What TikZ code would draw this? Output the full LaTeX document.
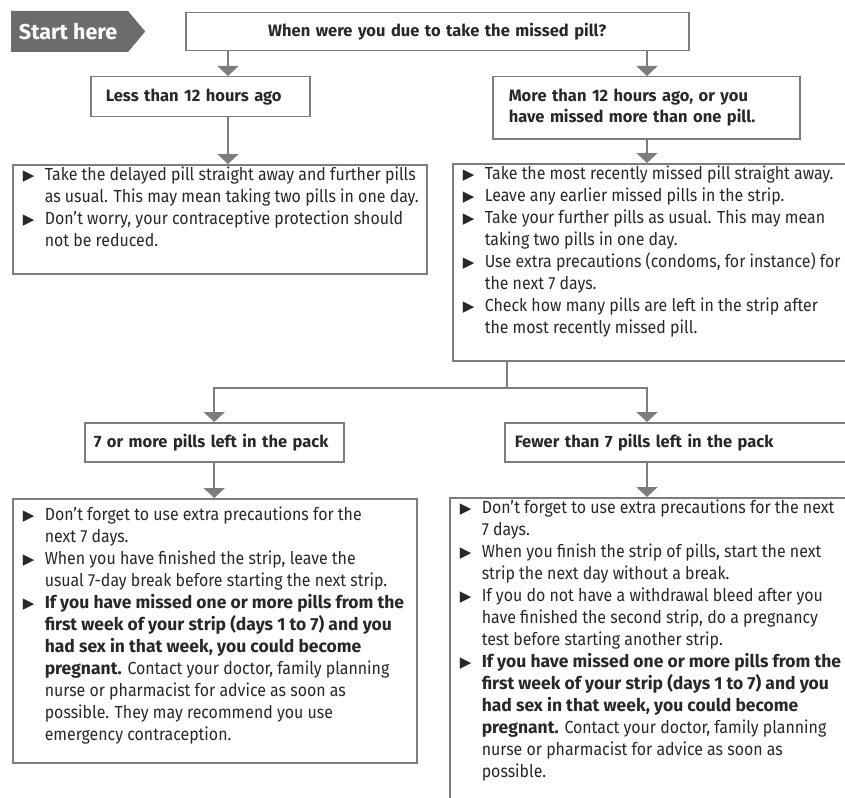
\documentclass[tikz,border=0pt]{standalone}
\usepackage{fontspec}
\setmainfont{Fira Sans}[FakeStretch=0.91]
\newfontfamily\headfont{Fira Sans}
\newfontfamily\symfont{DejaVu Sans}
\usepackage{xcolor}
\definecolor{linegrey}{RGB}{125,125,125}
\definecolor{startgrey}{RGB}{108,108,108}
\definecolor{ink}{RGB}{40,40,40}
\usetikzlibrary{positioning, calc, shapes.symbols, arrows.meta}
\tikzstyle{Arrow} = [draw=linegrey, line width=2pt,
-{Triangle[width=21pt,length=10pt]}]
\tikzstyle{Line} = [draw=linegrey, line width=2pt]
\tikzstyle{Head} = [draw=linegrey, line width=1.5pt, text=ink, anchor=north west,
font=\headfont\bfseries\fontsize{16.5}{21}\selectfont, align=left]
\tikzstyle{Body} = [draw=linegrey, line width=1.5pt, text=ink, anchor=north west,
inner sep=0pt, font=\fontsize{17.5}{22}\selectfont]
\newcommand{\itm}{\par\hangindent=32pt\hangafter=1\noindent\hspace*{10pt}%
\makebox[22pt][l]{{\symfont\fontsize{15}{15}\selectfont ▶}}\strut}
\newcommand{\warnbold}[1]{{\headfont\bfseries #1}}
\newcommand{\boxtext}[3]{\parbox[t][#2][t]{#1}{\raggedright #3}}

\begin{document}
\begin{tikzpicture}[x=1pt, y=-1pt]
        \clip (0,0) rectangle (845,797);
        \coordinate (lcol) at (228,0);
        \coordinate (rcol) at (647,0);
        \coordinate (fork) at (507,388);

        \node [signal, signal to=east, signal pointer angle=100, fill=startgrey,
               text=white, font=\headfont\bfseries\fontsize{21.5}{24}\selectfont,
               minimum height=41, minimum width=134, anchor=west] (start) at (11,31.5)
              {Start here\hspace*{3pt}};
        \node [Head, align=center, text width=480, inner xsep=11.5, minimum height=38] (question) at (185,12)
              {When were you due to take the missed pill?};
        \node [Head, text width=189, inner xsep=15, minimum height=40] (less) at (90,76)
              {Less than 12 hours ago};
        \node [Head, text width=275, inner xsep=16, minimum height=62] (more) at (492,76)
              {More than 12 hours ago, or you\\have missed more than one pill.};

        \node [Body] (lt) at (12,164) {\boxtext{414pt}{109pt}{%
              \itm Take the delayed pill straight away and further pills\newline
              as usual. This may mean taking two pills in one day.
              \itm Don't worry, your contraceptive protection should\newline
              not be reduced.}};
        \node [Body] (rt) at (452,163) {\boxtext{430pt}{197pt}{%
              \itm Take the most recently missed pill straight away.
              \itm Leave any earlier missed pills in the strip.
              \itm Take your further pills as usual. This may mean\newline
              taking two pills in one day.
              \itm Use extra precautions (condoms, for instance) for\newline
              the next 7 days.
              \itm Check how many pills are left in the strip after\newline
              the most recently missed pill.}};

        \node [Head, text width=241, inner xsep=9, minimum height=39] (seven) at (84,422)
              {7 or more pills left in the pack};
        \node [Head, text width=340, inner xsep=10, minimum height=39] (fewer) at (504,422)
              {Fewer than 7 pills left in the pack};

        \node [Body] (lb) at (12,498) {\boxtext{404pt}{264pt}{\vspace*{6pt}%
              \itm Don't forget to use extra precautions for the\newline
              next 7 days.
              \itm When you have finished the strip, leave the\newline
              usual 7-day break before starting the next strip.
              \itm \warnbold{If you have missed one or more pills from the\newline
              first week of your strip (days 1 to 7) and you\newline
              had sex in that week, you could become\newline
              pregnant.} Contact your doctor, family planning\newline
              nurse or pharmacist for advice as soon as\newline
              possible. They may recommend you use\newline
              emergency contraception.}};
        \node [Body] (rb) at (449,497) {\boxtext{430pt}{330pt}{%
              \itm Don't forget to use extra precautions for the next\newline
              7 days.
              \itm When you finish the strip of pills, start the next\newline
              strip the next day without a break.
              \itm If you do not have a withdrawal bleed after you\newline
              have finished the second strip, do a pregnancy\newline
              test before starting another strip.
              \itm \warnbold{If you have missed one or more pills from the\newline
              first week of your strip (days 1 to 7) and you\newline
              had sex in that week, you could become\newline
              pregnant.} Contact your doctor, family planning\newline
              nurse or pharmacist for advice as soon as\newline
              possible.}};

        % connectors
        \draw[Arrow] (question.south -| lcol) -- (less.north -| lcol);
        \draw[Arrow] (question.south -| rcol) -- (more.north -| rcol);
        \draw[Arrow] (less.south -| lcol) -- (lt.north -| lcol);
        \draw[Arrow] (more.south -| rcol) -- (rt.north -| rcol);
        \draw[Line] (rt.south -| fork) -- (fork);
        \draw[Arrow] (fork) -| (seven.north);
        \draw[Arrow] (fork) -| (fewer.north -| rcol);
        \draw[Arrow] (seven.south) -- (lb.north -| seven.south);
        \draw[Arrow] (fewer.south -| rcol) -- (rb.north -| rcol);
    \end{tikzpicture}
\end{document}
